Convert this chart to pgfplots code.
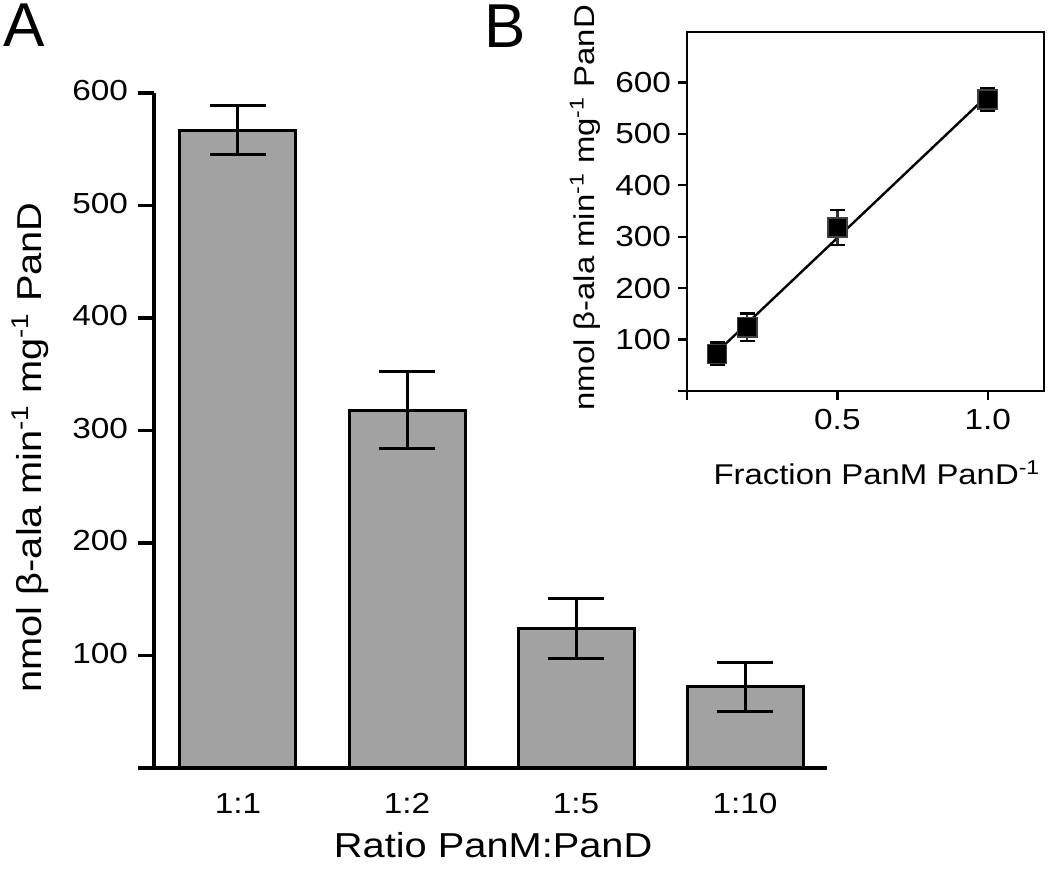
\documentclass[border=0pt]{standalone}
\usepackage{fontspec}
\setmainfont{Liberation Sans}[FakeStretch=1.15]
\newfontfamily\letterfont{Liberation Sans}
\usepackage{pgfplots}
\pgfplotsset{compat=1.18}
\definecolor{barfill}{HTML}{A2A2A2}

\begin{document}
\begin{tikzpicture}
\path[use as bounding box] (0,0) rectangle (525pt,442pt);
\node[anchor=base west, inner sep=0pt, font=\letterfont\fontsize{31}{31}\selectfont] at (1.5pt,418.5pt) {A};
\node[anchor=base west, inner sep=0pt, font=\letterfont\fontsize{31}{31}\selectfont] at (242pt,418pt) {B};

\begin{axis}[
  at={(77pt,58pt)}, anchor=south west, scale only axis,
  width=336.5pt, height=337.5pt,
  xmin=-0.497, xmax=3.485, ymin=0, ymax=600,
  axis x line=bottom, axis y line=left,
  axis line style={-, line width=1.6pt},
  ytick={0,100,200,300,400,500,600},
  yticklabels={,100,200,300,400,500,600},
  xtick={0,1,2,3}, xticklabels={1:1,1:2,1:5,1:10},
  tick align=outside, major tick length=8pt,
  every tick/.style={black, line width=1.6pt},
  xtick style={draw=none},
  tick label style={font=\fontsize{14.5}{15}\selectfont},
  xticklabel style={yshift=-1pt},
  yticklabel style={xshift=-1.5pt, yshift=1pt},
  xlabel={Ratio PanM:PanD},
  xlabel style={font=\fontsize{17.3}{18}\selectfont, at={(axis description cs:0.504,-0.114)}, anchor=center},
  ylabel={nmol β-ala min\textsuperscript{-1} mg\textsuperscript{-1} PanD},
  ylabel style={font=\fontsize{17.3}{18}\selectfont, at={(axis description cs:-0.184,0.475)}, anchor=center},
  clip=false,
]
\addplot[ybar, bar width=58pt, fill=barfill, draw=black, line width=1.5pt,
  error bars/.cd, y dir=both, y explicit,
  error bar style={line width=1.5pt, black},
  error mark options={rotate=90, mark size=14pt, line width=1.5pt, black}]
  coordinates {
    (0,567) +- (0,22)
    (1,318) +- (0,34)
    (2,124) +- (0,27)
    (3,72)  +- (0,22)
  };
\end{axis}

\begin{axis}[
  at={(343.5pt,246.5pt)}, anchor=south west, scale only axis,
  width=178.5pt, height=179.5pt,
  xmin=0, xmax=1.187, ymin=0, ymax=698,
  axis line style={line width=1.2pt},
  xtick={0,0.5,1}, xticklabels={,0.5,1.0},
  ytick={0,100,200,300,400,500,600},
  yticklabels={,100,200,300,400,500,600},
  xtick pos=left, ytick pos=left,
  tick align=outside, major tick length=4.5pt,
  every tick/.style={black, line width=1.2pt},
  tick label style={font=\fontsize{14.5}{15}\selectfont},
  xticklabel style={yshift=-1pt},
  xlabel={Fraction PanM PanD\textsuperscript{-1}},
  xlabel style={font=\fontsize{14.3}{15}\selectfont, at={(axis description cs:0.532,-0.228)}, anchor=center},
  ylabel={nmol β-ala min\textsuperscript{-1} mg\textsuperscript{-1} PanD},
  ylabel style={font=\fontsize{14.3}{15}\selectfont, at={(axis description cs:-0.286,0.51)}, anchor=center},
  clip=false,
]
\addplot[black, line width=1.2pt, no marks] coordinates {(0.1,76) (1.0,575)};
\addplot[only marks, mark=square*, mark size=4.8pt,
  mark options={fill=black, draw=black!75, line width=0.8pt},
  error bars/.cd, y dir=both, y explicit,
  error bar style={line width=1.2pt, black!80},
  error mark options={rotate=90, mark size=3.75pt, line width=1.2pt, black}]
  coordinates {
    (0.1,72)  +- (0,22)
    (0.2,124) +- (0,27)
    (0.5,318) +- (0,34)
    (1.0,567) +- (0,22)
  };
\end{axis}
\end{tikzpicture}
\end{document}
